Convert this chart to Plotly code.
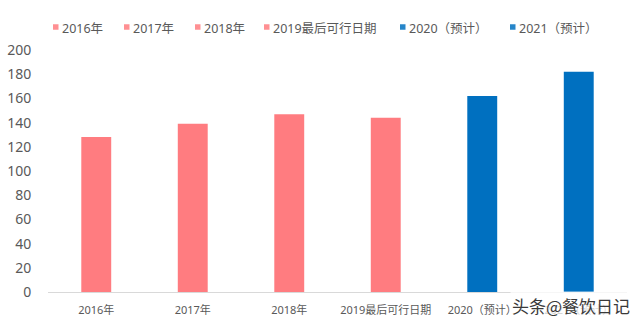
import plotly.graph_objects as go

# Annual values by category
categories = ["2016年", "2017年", "2018年", "2019最后可行日期", "2020（预计）", "2021（预计）"]
values = [128, 139, 147, 144, 162, 182]
colors = ["#FF7C80", "#FF7C80", "#FF7C80", "#FF7C80", "#0070C0", "#0070C0"]

y_ticks = [0, 20, 40, 60, 80, 100, 120, 140, 160, 180, 200]

FONT = "Noto Sans, Noto Sans CJK SC, sans-serif"
GRAY = "#595959"

W, H = 640, 323
ML, MR, MT, MB = 48, 13, 50, 31
PW, PH = W - ML - MR, H - MT - MB


def to_paper_x(px):
    return (px - ML) / PW


def to_paper_y(py):
    return (H - MB - py) / PH


fig = go.Figure()
for cat, val, col in zip(categories, values, colors):
    fig.add_trace(go.Bar(
        x=[cat], y=[val], name=cat,
        marker=dict(color=col, line=dict(width=0)),
        width=0.31, showlegend=False,
        hoverinfo="x+y",
    ))

# Single-row key above the plot: small square swatch followed by its label
key_left = [53, 124, 195, 264, 400, 510]
key_y = 28
swatch = 5.5
for left, cat, col in zip(key_left, categories, colors):
    fig.add_shape(
        type="rect", xref="paper", yref="paper",
        x0=to_paper_x(left), x1=to_paper_x(left + swatch),
        y0=to_paper_y(key_y - 1 - swatch / 2), y1=to_paper_y(key_y - 1 + swatch / 2),
        fillcolor=col, opacity=0.85, line=dict(width=0),
    )
    fig.add_annotation(
        text=cat, xref="paper", yref="paper",
        x=to_paper_x(left + swatch + 1.5), xanchor="left",
        y=to_paper_y(key_y + 0.5), yanchor="middle",
        showarrow=False,
        font=dict(size=12.5, color=GRAY, family=FONT),
    )

fig.update_layout(
    width=W, height=H,
    margin=dict(l=ML, r=MR, t=MT, b=MB, autoexpand=False),
    paper_bgcolor="white", plot_bgcolor="white",
    barmode="overlay",
    font=dict(family=FONT, color=GRAY),
    showlegend=False,
    xaxis=dict(
        categoryorder="array", categoryarray=categories,
        showline=True, linecolor="#D9D9D9", linewidth=1,
        showgrid=False, zeroline=False,
        ticks="outside", ticklen=8, tickcolor="rgba(0,0,0,0)",
        tickfont=dict(size=11, color=GRAY, family=FONT),
        automargin=False, fixedrange=True,
    ),
    yaxis=dict(
        range=[0, 200], tickvals=y_ticks,
        showline=False, showgrid=False, zeroline=False,
        ticks="outside", ticklen=13, tickcolor="rgba(0,0,0,0)",
        tickfont=dict(size=14, color=GRAY, family=FONT),
        automargin=False, fixedrange=True,
    ),
)

# Source watermark in the lower right corner
fig.add_annotation(
    text="头条@餐饮日记", xref="paper", yref="paper",
    x=to_paper_x(632), xanchor="right", y=to_paper_y(305), yanchor="middle",
    showarrow=False,
    font=dict(size=17, color="#3A3A3A", family="Noto Sans CJK SC"),
    bgcolor="rgba(255,255,255,0.75)",
)

fig.write_html("out.html")
